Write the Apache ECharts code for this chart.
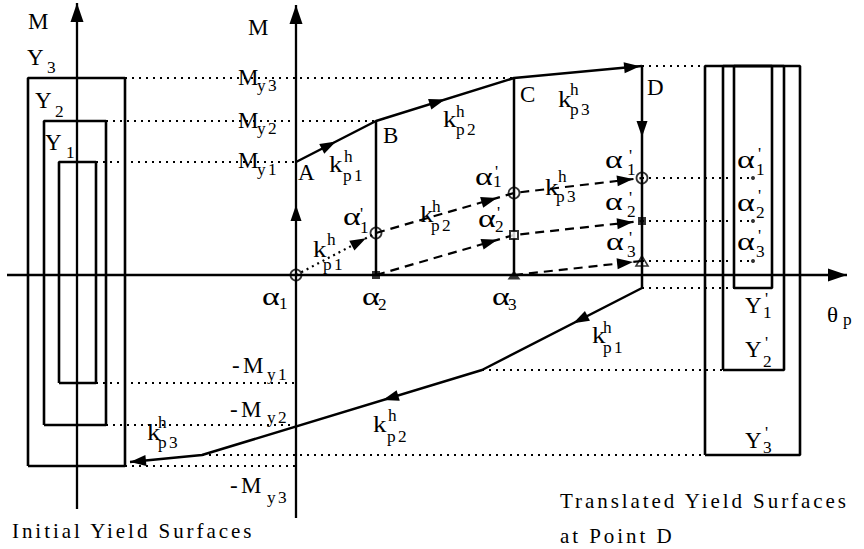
<!DOCTYPE html>
<html><head><meta charset="utf-8">
<script src="https://cdn.jsdelivr.net/npm/echarts@6/dist/echarts.min.js"></script>
<style>
html,body{margin:0;padding:0;background:#fff;}
#chart{width:864px;height:549px;}
#chart text{letter-spacing:0.14em;}
</style></head><body><div id="chart"></div>
<script>
// ---- data: diagram units, theta_p to the right, M upward, origin at alpha1 ----
const yieldMoments = [113, 154, 197];            // My1, My2, My3
const negYieldMoments = [-108, -150, -191];      // -My1, -My2, -My3
const loadTheta = [0, 80, 218, 346];             // A, B, C, D
const loadM = [113, 154, 197, 209];
const unloadTheta = [346, 346, 186, -94, -166];  // D, E, F, G, end
const unloadM = [209, -13, -95, -180, -187];
const alpha1Theta = [0, 80, 218, 346];
const alpha1M = [0, 42, 82, 97];
const alpha2Theta = [80, 218, 346];
const alpha2M = [0, 40, 54];
const alpha3Theta = [218, 346];
const alpha3M = [0, 14];
const initLeft = [-237, -252, -268];             // Y1, Y2, Y3
const initRight = [-200, -190, -171];
const initAxisTheta = -219;
const transLeft = [438, 427, 409];               // Y1', Y2', Y3'
const transRight = [476, 488, 504];
const transBottom = [-13, -95, -180];
const transCenter = 457;
const thetaAxisRange = [-289, 551];
const mainAxisRange = [-243, 270];
const initAxisRange = [-234, 272];

// ---- text labels (anchored left / baseline, diagram units) ----
const labels = [
 [-268, 246, 'M', 'L'], [-48, 240, 'M', 'L'],
 [-269, 210, 'Y', 'L'], [-249, 202, '3', 'S'],
 [-261, 167, 'Y', 'L'], [-241, 158, '2', 'S'],
 [-251, 125, 'Y', 'L'], [-230, 117, '1', 'S'],
 [-58, 190, 'M', 'L'], [-39, 184, 'y3', 'S'],
 [-58, 147, 'M', 'L'], [-39, 141, 'y2', 'S'],
 [-58, 107, 'M', 'L'], [-39, 100, 'y1', 'S'],
 [2, 95, 'A', 'L'], [87, 132, 'B', 'L'], [224, 173, 'C', 'L'], [351, 180, 'D', 'L'],
 [33, 103, 'k', 'K'], [48, 113, 'h', 'S'], [47, 94, 'p1', 'S'],
 [147, 148, 'k', 'K'], [160, 158, 'h', 'S'], [160, 140, 'p2', 'S'],
 [262, 168, 'k', 'K'], [274, 180, 'h', 'S'], [274, 160, 'p3', 'S'],
 [17, 18, 'k', 'K'], [31, 30, 'h', 'S'], [27, 5, 'p1', 'S'],
 [124, 53, 'k', 'K'], [136, 63, 'h', 'S'], [135, 44, 'p2', 'S'],
 [249, 80, 'k', 'K'], [262, 93, 'h', 'S'], [260, 73, 'p3', 'S'],
 [47, 50, 'α', 'G'], [64, 42, '1', 'S'], [64, 56, "'", 'S'],
 [179, 90, 'α', 'G'], [197, 88, '1', 'S'], [199, 98, "'", 'S'],
 [182, 48, 'α', 'G'], [199, 43, '2', 'S'], [201, 57, "'", 'S'],
 [309, 107, 'α', 'G'], [331, 100, '1', 'S'], [333, 114, "'", 'S'],
 [309, 65, 'α', 'G'], [331, 58, '2', 'S'], [333, 72, "'", 'S'],
 [310, 25, 'α', 'G'], [331, 18, '3', 'S'], [333, 32, "'", 'S'],
 [441, 107, 'α', 'G'], [460, 100, '1', 'S'], [462, 116, "'", 'S'],
 [441, 64, 'α', 'G'], [460, 57, '2', 'S'], [462, 74, "'", 'S'],
 [441, 25, 'α', 'G'], [460, 18, '3', 'S'], [462, 34, "'", 'S'],
 [-34, -30, 'α', 'G'], [-17, -34, '1', 'S'],
 [66, -30, 'α', 'G'], [82, -35, '2', 'S'],
 [196, -30, 'α', 'G'], [212, -35, '3', 'S'],
 [531, -47, 'θ', 'T'], [547, -50, 'p', 'S'],
 [449, -38, 'Y', 'L'], [467, -43, '1', 'S'], [469, -29, "'", 'S'],
 [449, -82, 'Y', 'L'], [467, -92, '2', 'S'], [469, -73, "'", 'S'],
 [449, -173, 'Y', 'L'], [467, -178, '3', 'S'], [469, -163, "'", 'S'],
 [296, -68, 'k', 'K'], [307, -58, 'h', 'S'], [307, -78, 'p1', 'S'],
 [77, -157, 'k', 'K'], [92, -146, 'h', 'S'], [91, -167, 'p2', 'S'],
 [-149, -165, 'k', 'K'], [-138, -153, 'h', 'S'], [-138, -173, 'p3', 'S'],
 [-64, -98, '-M', 'L'], [-29, -105, 'y1', 'S'],
 [-66, -142, '-M', 'L'], [-29, -148, 'y2', 'S'],
 [-66, -218, '-M', 'L'], [-29, -228, 'y3', 'S'],
 [-284, -263, 'Initial Yield Surfaces', 'C'],
 [264, -233, 'Translated Yield Surfaces', 'C'],
 [264, -268, 'at Point D', 'C']
];

const kinds = {
  L: {size: 23, sx: 1}, K: {size: 24, sx: 1.12}, S: {size: 16, sx: 1.08},
  G: {size: 26, sx: 1.3}, T: {size: 21, sx: 1.1}, C: {size: 21, sx: 1}
};

function pts(xs, ys) { return xs.map((x, i) => [x, ys[i]]); }
function rect(l, r, b, t) { return [[l, b], [l, t], [r, t], [r, b], [l, b]]; }

function lineS(data, width, type) {
  return {type: 'line', data: data, symbol: 'none', clip: false, silent: true, z: 3,
    lineStyle: {color: '#000', width: width, type: type || 'solid', cap: 'butt'}};
}

const series = [];
// axes
series.push(lineS([[thetaAxisRange[0], 0], [thetaAxisRange[1], 0]], 2.3));
series.push(lineS([[0, mainAxisRange[0]], [0, mainAxisRange[1]]], 2.3));
series.push(lineS([[initAxisTheta, initAxisRange[0]], [initAxisTheta, initAxisRange[1]]], 2.3));
// initial yield surfaces
for (let i = 0; i < 3; i++) series.push(lineS(rect(initLeft[i], initRight[i], negYieldMoments[i], yieldMoments[i]), 2.6));
// translated yield surfaces
for (let i = 0; i < 3; i++) series.push(lineS(rect(transLeft[i], transRight[i], transBottom[i], loadM[3]), 2.6));
// loading path
series.push(lineS(pts(loadTheta, loadM), 2.5));
series.push(lineS([[loadTheta[1], loadM[1]], [loadTheta[1], 0]], 2.5));
series.push(lineS([[loadTheta[2], loadM[2]], [loadTheta[2], 0]], 2.5));
// unloading path
series.push(lineS(pts(unloadTheta, unloadM), 2.5));
// back-stress paths
series.push(lineS(pts(alpha1Theta.slice(0, 2), alpha1M.slice(0, 2)), 2.2, [2, 4]));
series.push(lineS(pts(alpha1Theta.slice(1), alpha1M.slice(1)), 2.2, [9, 6]));
series.push(lineS(pts(alpha2Theta, alpha2M), 2.2, [9, 6]));
series.push(lineS(pts(alpha3Theta, alpha3M), 2.2, [9, 6]));
// dotted reference lines
const dotted = [
  [initRight[2], yieldMoments[2], loadTheta[2], yieldMoments[2]],
  [initRight[1], yieldMoments[1], loadTheta[1], yieldMoments[1]],
  [initRight[0], yieldMoments[0], 0, yieldMoments[0]],
  [loadTheta[3], loadM[3], transLeft[2], loadM[3]],
  [alpha1Theta[3], alpha1M[3], transCenter, alpha1M[3]],
  [alpha2Theta[2], alpha2M[2], transCenter, alpha2M[2]],
  [alpha3Theta[1], alpha3M[1], transCenter, alpha3M[1]],
  [unloadTheta[1], unloadM[1], transLeft[0], unloadM[1]],
  [unloadTheta[2], unloadM[2], transLeft[1], unloadM[2]],
  [unloadTheta[3], unloadM[3], transLeft[2], unloadM[3]],
  [initRight[0], negYieldMoments[0], 0, negYieldMoments[0]],
  [initRight[1], negYieldMoments[1], 0, negYieldMoments[1]],
  [initRight[2], negYieldMoments[2], 0, negYieldMoments[2]]
];
dotted.forEach(d => series.push(lineS([[d[0], d[1]], [d[2], d[3]]], 2.2, [2, 5])));

// markers
const hollow = {color: 'rgba(255,255,255,0)', borderColor: '#000', borderWidth: 1.8};
series.push({type: 'scatter', clip: false, silent: true, z: 5, symbol: 'circle', symbolSize: 11,
  itemStyle: hollow, data: pts(alpha1Theta, alpha1M)});
series.push({type: 'scatter', clip: false, silent: true, z: 5, symbol: 'rect', symbolSize: 8,
  itemStyle: {color: '#000'}, data: [[alpha2Theta[0], alpha2M[0]], [alpha2Theta[2], alpha2M[2]]]});
series.push({type: 'scatter', clip: false, silent: true, z: 5, symbol: 'rect', symbolSize: 8,
  itemStyle: {color: '#fff', borderColor: '#000', borderWidth: 2}, data: [[alpha2Theta[1], alpha2M[1]]]});
series.push({type: 'scatter', clip: false, silent: true, z: 5, symbol: 'triangle', symbolSize: [13, 9],
  itemStyle: {color: '#000'}, data: [[alpha3Theta[0], alpha3M[0]]]});
series.push({type: 'scatter', clip: false, silent: true, z: 5, symbol: 'triangle', symbolSize: [12, 10],
  itemStyle: {color: 'rgba(255,255,255,0)', borderColor: '#000', borderWidth: 1.6}, data: [[alpha3Theta[1], alpha3M[1]]]});
series.push({type: 'scatter', clip: false, silent: true, z: 5, symbol: 'circle', symbolSize: 4,
  itemStyle: {color: '#000'}, data: [[transCenter, alpha1M[3]], [transCenter, alpha2M[2]], [transCenter, alpha3M[1]]]});

// arrowheads: [x1,y1,x2,y2, tip fraction, size kind]
const arrows = [
  [thetaAxisRange[0], 0, thetaAxisRange[1], 0, 1, 2],
  [0, mainAxisRange[0], 0, mainAxisRange[1], 1, 2],
  [initAxisTheta, initAxisRange[0], initAxisTheta, initAxisRange[1], 1, 2],
  [0, 0, 0, loadM[0], 0.62, 1],
  [loadTheta[0], loadM[0], loadTheta[1], loadM[1], 0.5, 1],
  [loadTheta[1], loadM[1], loadTheta[2], loadM[2], 0.5, 1],
  [loadTheta[2], loadM[2], loadTheta[3], loadM[3], 0.985, 1],
  [unloadTheta[0], unloadM[0], unloadTheta[1], unloadM[1], 0.32, 1],
  [unloadTheta[1], unloadM[1], unloadTheta[2], unloadM[2], 0.43, 1],
  [unloadTheta[2], unloadM[2], unloadTheta[3], unloadM[3], 0.354, 1],
  [unloadTheta[3], unloadM[3], unloadTheta[4], unloadM[4], 1, 1],
  [alpha1Theta[0], alpha1M[0], alpha1Theta[1], alpha1M[1], 0.875, 1],
  [alpha1Theta[1], alpha1M[1], alpha1Theta[2], alpha1M[2], 0.877, 1],
  [alpha1Theta[2], alpha1M[2], alpha1Theta[3], alpha1M[3], 0.93, 1],
  [alpha2Theta[0], alpha2M[0], alpha2Theta[1], alpha2M[1], 0.88, 1],
  [alpha2Theta[1], alpha2M[1], alpha2Theta[2], alpha2M[2], 0.93, 1],
  [alpha3Theta[0], alpha3M[0], alpha3Theta[1], alpha3M[1], 0.93, 1]
];
const arrowSizes = {1: [16, 5.5], 2: [19, 6.5]};

series.push({
  type: 'custom', clip: false, silent: true, z: 6,
  data: arrows.map(a => [a[0], a[1]]),
  renderItem: function (params, api) {
    const a = arrows[params.dataIndex];
    const p1 = api.coord([a[0], a[1]]), p2 = api.coord([a[2], a[3]]);
    const dx = p2[0] - p1[0], dy = p2[1] - p1[1];
    const len = Math.hypot(dx, dy), ux = dx / len, uy = dy / len;
    const tip = [p1[0] + dx * a[4], p1[1] + dy * a[4]];
    const sz = arrowSizes[a[5]];
    const bx = tip[0] - ux * sz[0], by = tip[1] - uy * sz[0];
    return {type: 'polygon', shape: {points: [tip, [bx - uy * sz[1], by + ux * sz[1]], [bx + uy * sz[1], by - ux * sz[1]]]},
      style: {fill: '#000'}};
  }
});

series.push({
  type: 'custom', clip: false, silent: true, z: 7,
  data: labels.map(l => [l[0], l[1]]),
  renderItem: function (params, api) {
    const l = labels[params.dataIndex];
    const k = kinds[l[3]];
    const p = api.coord([l[0], l[1]]);
    return {type: 'text', x: p[0], y: p[1] - k.size * 0.34, scaleX: k.sx,
      style: {text: l[2], fill: '#000', font: 'normal normal ' + k.size + 'px "Liberation Serif", serif',
        fontSize: k.size, fontFamily: '"Liberation Serif", serif',
        align: 'left', verticalAlign: 'middle', textAlign: 'left', textVerticalAlign: 'middle'}};
  }
});

const chart = echarts.init(document.getElementById('chart'), null, {renderer: 'svg'});
chart.setOption({
  animation: false,
  backgroundColor: '#fff',
  grid: {left: 7, right: 17, top: 5, bottom: 31},
  xAxis: {type: 'value', min: thetaAxisRange[0], max: thetaAxisRange[1], show: false},
  yAxis: {type: 'value', min: mainAxisRange[0], max: mainAxisRange[1], show: false},
  series: series
});
</script></body></html>
